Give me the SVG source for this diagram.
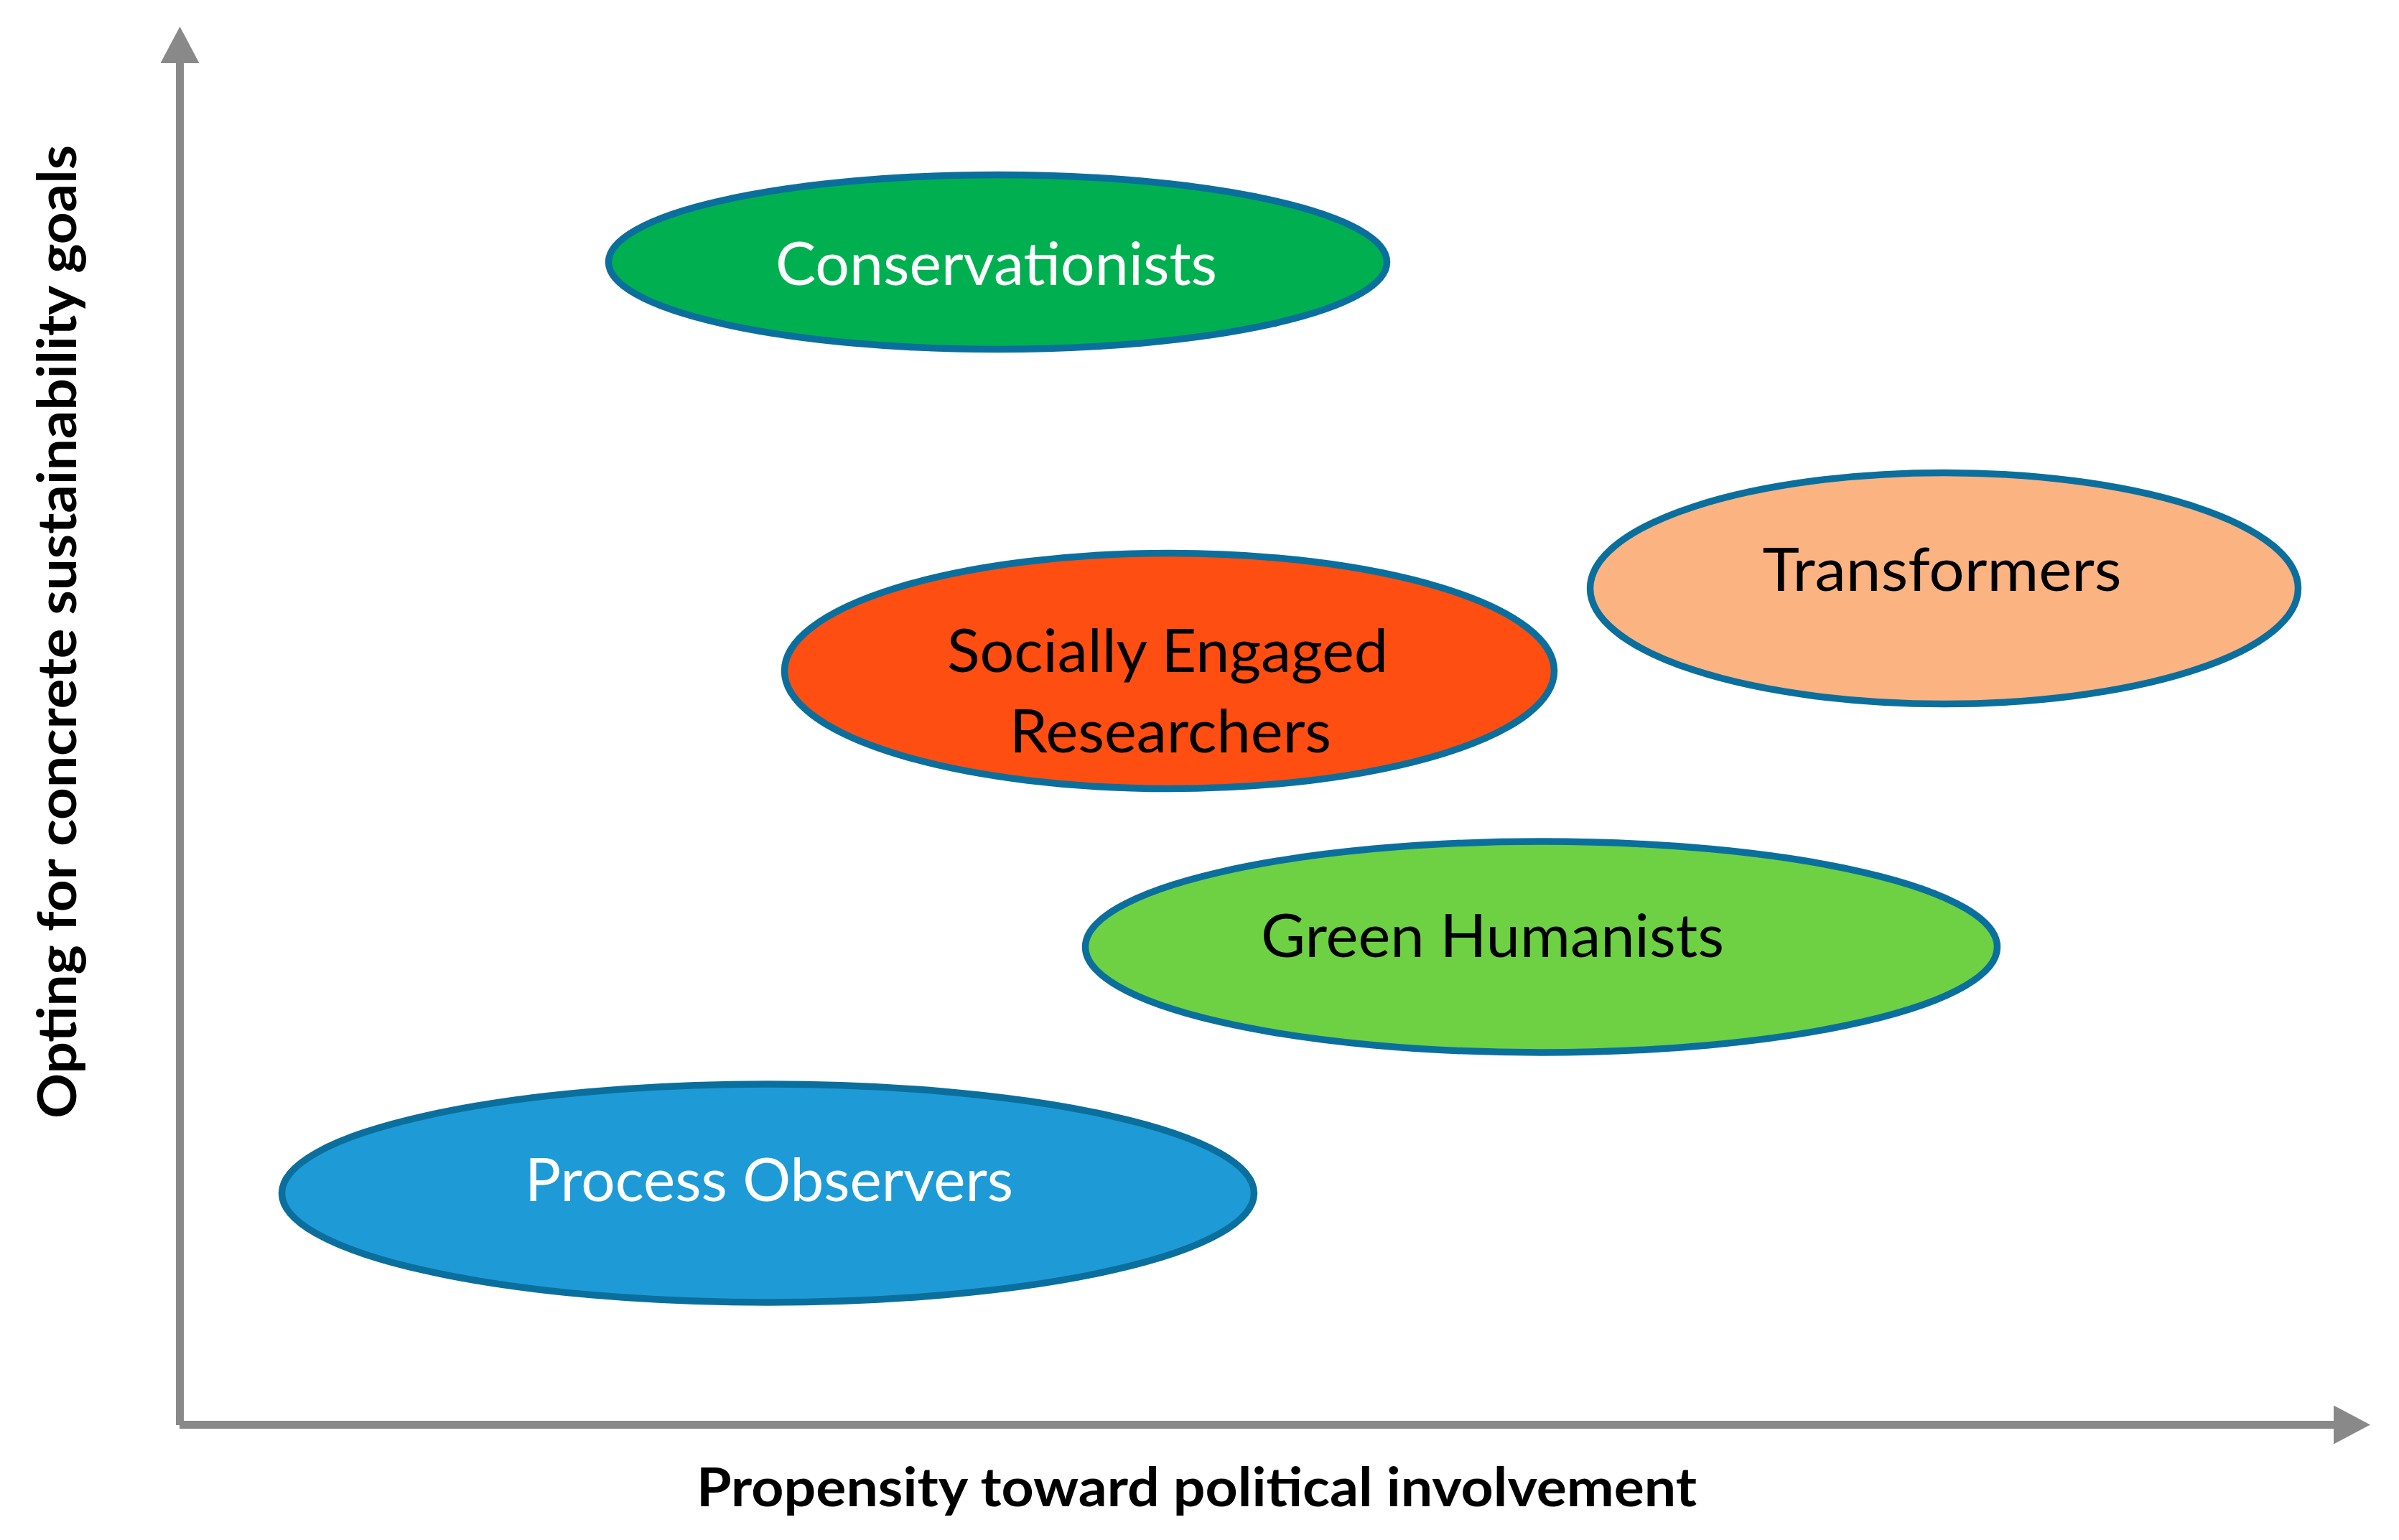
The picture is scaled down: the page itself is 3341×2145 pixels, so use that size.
<svg xmlns="http://www.w3.org/2000/svg" width="3341" height="2145" viewBox="0 0 3341 2145">
<style>
.node ellipse{stroke:#0B6F9D;stroke-width:9.5}
.lbl{font-family:Lato,"Open Sans","Liberation Sans",sans-serif;font-size:84px;text-anchor:middle}
.axislbl{font-family:Lato,"Open Sans","Liberation Sans",sans-serif;font-size:74px;font-weight:bold;fill:#000;text-anchor:middle}
.axis{stroke:#898989;stroke-width:11;fill:none}
</style>
<defs>
<marker id="arr" markerUnits="userSpaceOnUse" markerWidth="51" markerHeight="54" refX="0" refY="27" orient="auto" viewBox="0 0 51 54">
<path d="M0,0 L51,27 L0,54 Z" fill="#898989"/>
</marker>
</defs>
<rect width="3341" height="2145" fill="#fff"/>
<g id="connectors">
<line class="axis" x1="250.5" y1="1985" x2="250.5" y2="88" marker-end="url(#arr)"/>
<line class="axis" x1="250" y1="1984.5" x2="3250" y2="1984.5" marker-end="url(#arr)"/>
</g>
<g id="conservationists" class="node">
<ellipse cx="1389.5" cy="365" rx="542" ry="121.5" fill="#00B050"/>
<text class="lbl" x="1387.5" y="397" fill="#fff" textLength="615" lengthAdjust="spacingAndGlyphs">Conservationists</text>
</g>
<g id="transformers" class="node">
<ellipse cx="2707.5" cy="819.5" rx="493" ry="161" fill="#FCB382"/>
<text class="lbl" x="2704.5" y="823" fill="#000" textLength="500" lengthAdjust="spacingAndGlyphs">Transformers</text>
</g>
<g id="socially-engaged-researchers" class="node">
<ellipse cx="1628.5" cy="934.5" rx="536" ry="164" fill="#FF4E11"/>
<text class="lbl" x="1626" y="936" fill="#000" textLength="614" lengthAdjust="spacingAndGlyphs">Socially Engaged</text>
<text class="lbl" x="1630" y="1048" fill="#000" textLength="448" lengthAdjust="spacingAndGlyphs">Researchers</text>
</g>
<g id="green-humanists" class="node">
<ellipse cx="2146.5" cy="1319" rx="635" ry="147" fill="#6DD143"/>
<text class="lbl" x="2078.5" y="1333" fill="#000" textLength="645" lengthAdjust="spacingAndGlyphs">Green Humanists</text>
</g>
<g id="process-observers" class="node">
<ellipse cx="1069.5" cy="1662" rx="677" ry="152" fill="#1E9BD7"/>
<text class="lbl" x="1071" y="1673" fill="#fff" textLength="680" lengthAdjust="spacingAndGlyphs">Process Observers</text>
</g>
<g id="x-axis-label">
<text class="axislbl" x="1666.5" y="2098" textLength="1393" lengthAdjust="spacingAndGlyphs">Propensity toward political involvement</text>
</g>
<g id="y-axis-label">
<text class="axislbl" transform="translate(106,880) rotate(-90)" x="0" y="0" textLength="1356" lengthAdjust="spacingAndGlyphs">Opting for concrete sustainability goals</text>
</g>
</svg>
